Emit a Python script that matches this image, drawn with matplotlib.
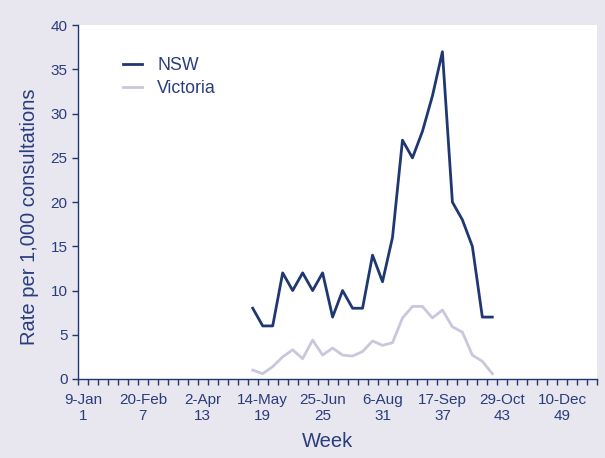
import matplotlib.pyplot as plt
from matplotlib.ticker import FixedLocator

plt.rcParams['font.family'] = ['Liberation Sans', 'DejaVu Sans']

# weekly rate per 1,000 consultations
weeks = list(range(18, 43))
nsw = [8, 6, 6, 12, 10, 12, 10, 12, 7, 10, 8, 8, 14, 11, 16,
       27, 25, 28, 32, 37, 20, 18, 15, 7, 7]
victoria = [1.0, 0.6, 1.4, 2.5, 3.3, 2.3, 4.4, 2.7, 3.5, 2.7, 2.6, 3.1, 4.3,
            3.8, 4.1, 6.9, 8.2, 8.2, 6.9, 7.8, 5.9, 5.3, 2.7, 2.0, 0.6]

tick_weeks = [1, 7, 13, 19, 25, 31, 37, 43, 49]
tick_labels = ['9-Jan\n1', '20-Feb\n7', '2-Apr\n13', '14-May\n19', '25-Jun\n25',
               '6-Aug\n31', '17-Sep\n37', '29-Oct\n43', '10-Dec\n49']

navy = '#1f3872'
text_col = '#2a3d7c'
bg = '#e8e6ee'

fig = plt.figure(figsize=(6.05, 4.58), dpi=100, facecolor=bg)
ax = fig.add_axes([0.129, 0.1725, 0.858, 0.7725])
ax.set_facecolor('white')

ax.plot(weeks, nsw, color=navy, lw=2, label='NSW')
ax.plot(weeks, victoria, color='#c9c7dc', lw=2, label='Victoria')

ax.set_xlim(0.5, 52.5)
ax.set_ylim(0, 40)

ax.xaxis.set_major_locator(FixedLocator(tick_weeks))
ax.set_xticklabels(tick_labels)
ax.xaxis.set_minor_locator(FixedLocator([w + 0.5 for w in range(0, 53)]))
ax.tick_params(axis='x', which='major', length=0, pad=10, labelsize=11, colors=text_col)
ax.tick_params(axis='x', which='minor', length=4, width=1, color=navy, direction='out')
ax.set_yticks(range(0, 41, 5))
ax.tick_params(axis='y', length=4, width=1, color=navy, labelsize=11, labelcolor=text_col)

for s in ['top', 'right']:
    ax.spines[s].set_visible(False)
for s in ['left', 'bottom']:
    ax.spines[s].set_color(navy)
    ax.spines[s].set_linewidth(1.0)

ax.set_xlabel('Week', fontsize=14.5, color=text_col)
ax.set_ylabel('Rate per 1,000 consultations', fontsize=14.5, color=text_col)
ax.xaxis.set_label_coords(0.48, -0.15)
ax.yaxis.set_label_coords(-0.075, 0.458)

leg = ax.legend(loc='upper left', bbox_to_anchor=(0.055, 0.955), frameon=False,
                fontsize=12.8, handlelength=1.1, handletextpad=0.85, labelspacing=0.35)
for t in leg.get_texts():
    t.set_color(text_col)

fig.savefig('out.png', dpi=100, facecolor=bg)
